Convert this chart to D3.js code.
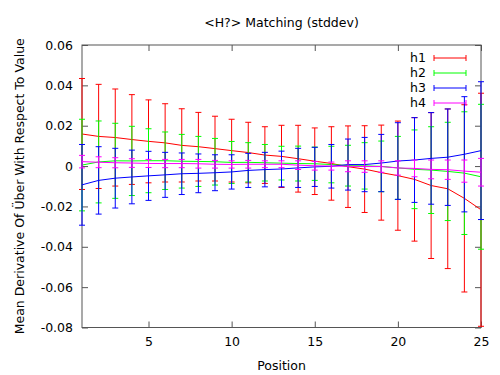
<!DOCTYPE html>
<html>
<head>
<meta charset="utf-8">
<script src="https://cdn.jsdelivr.net/npm/d3@7"></script>
<style>
  body { margin: 0; background: #fff; }
  text { font-family: "DejaVu Sans", sans-serif; fill: #000; }
</style>
</head>
<body>
<script>
// <H?> Matching (stddev) - gnuplot style yerrorlines

const positions = d3.range(1, 26);
const seriesNames = ["h1", "h2", "h3", "h4"];

// means (x 0.001)
const h1Mean = [15.9, 14.7, 14.15, 13.15, 12.25, 11.5, 10.25, 9.6, 8.65, 7.65, 6.7, 5.45, 4.8, 3.65, 2.4, 1.3, -0.3, -1.5, -3.25, -4.75, -6.6, -9.65, -11.25, -16.0, -21.65];
const h2Mean = [0.5, 2.05, 2.6, 2.55, 2.65, 2.65, 2.4, 2.3, 2.15, 1.8, 1.85, 1.65, 1.45, 1.25, 1.15, 0.75, 0.2, 0.1, -0.15, -0.9, -1.6, -2.0, -2.65, -3.5, -5.3];
const h3Mean = [-9.3, -7.1, -6.0, -5.4, -4.85, -4.35, -3.8, -3.6, -3.3, -2.9, -2.15, -1.75, -1.45, -0.9, -0.4, -0.1, 0.75, 0.75, 1.5, 2.5, 3.0, 3.8, 4.4, 5.85, 7.65];
const h4Mean = [2.2, 1.9, 1.65, 1.5, 1.3, 1.25, 1.25, 1.15, 0.9, 0.8, 0.9, 0.9, 0.9, 0.45, 0.15, 0.0, -0.1, -0.25, -0.25, -0.95, -1.15, -1.65, -1.8, -2.5, -3.05];

// standard deviations (x 0.001)
const h1Sd = [27.5, 25.8, 24.05, 22.25, 20.55, 19.4, 18.15, 17.0, 16.05, 15.55, 15.0, 14.05, 15.4, 16.55, 16.5, 18.2, 20.2, 21.5, 23.55, 27.05, 30.6, 36.15, 39.55, 46.4, 57.75];
const h2Sd = [22.7, 20.3, 18.6, 17.15, 15.85, 14.25, 13.3, 12.4, 11.55, 10.4, 9.75, 9.05, 8.35, 8.65, 8.25, 9.05, 10.1, 11.5, 12.55, 15.6, 19.5, 21.5, 24.35, 30.4, 35.9];
const h3Sd = [20.0, 16.7, 14.8, 13.3, 12.15, 11.15, 10.3, 9.6, 8.9, 8.5, 8.45, 8.55, 8.85, 9.7, 9.7, 10.8, 12.65, 13.45, 14.2, 19.0, 21.0, 22.7, 23.9, 28.55, 34.15];
const h4Sd = [3.1, 2.7, 2.5, 2.15, 2.0, 2.05, 2.05, 2.15, 1.9, 1.8, 1.9, 1.7, 1.7, 2.15, 2.15, 2.0, 2.7, 2.85, 2.85, 3.55, 4.15, 4.65, 4.8, 5.5, 6.85];

const xTicks = [5, 10, 15, 20, 25];
const yTicks = [-0.08, -0.06, -0.04, -0.02, 0, 0.02, 0.04, 0.06];

const WIDTH = 500;
const HEIGHT = 375;
const LEFT = 82, RIGHT = 481, TOP = 45, BOTTOM = 327.5;
const colors = { h1: "#ff0000", h2: "#00ff00", h3: "#0000ff", h4: "#ff00ff" };
const CAP = 3;
const TICK = 6;
const AXIS_COLOR = "#555";

const means = { h1: h1Mean, h2: h2Mean, h3: h3Mean, h4: h4Mean };
const sds = { h1: h1Sd, h2: h2Sd, h3: h3Sd, h4: h4Sd };

const series = seriesNames.map(name => ({
  name: name,
  values: positions.map((p, i) => ({
    x: p,
    y: means[name][i] / 1000,
    sd: sds[name][i] / 1000
  }))
}));

const svg = d3.select("body")
  .append("svg")
  .attr("width", WIDTH)
  .attr("height", HEIGHT);

const xScale = d3.scaleLinear().domain([1, 25]).range([LEFT, RIGHT]);
const yScale = d3.scaleLinear().domain([-0.08, 0.06]).range([BOTTOM, TOP]);

// axes: gnuplot-style inward ticks, mirrored
const fmtY = d => d === 0 ? "0" : d3.format(".2f")(d).replace("−", "-");

const yLeft = svg.append("g")
  .attr("transform", `translate(${LEFT},0)`)
  .call(d3.axisLeft(yScale).tickValues(yTicks).tickSize(-TICK).tickPadding(9).tickFormat(fmtY));
const yRight = svg.append("g")
  .attr("transform", `translate(${RIGHT},0)`)
  .call(d3.axisRight(yScale).tickValues(yTicks).tickSize(-TICK).tickFormat(""));
const xBottom = svg.append("g")
  .attr("transform", `translate(0,${BOTTOM})`)
  .call(d3.axisBottom(xScale).tickValues(xTicks).tickSize(-TICK).tickPadding(10));
const xTop = svg.append("g")
  .attr("transform", `translate(0,${TOP})`)
  .call(d3.axisTop(xScale).tickValues(xTicks).tickSize(-TICK).tickFormat(""));

[yLeft, yRight, xBottom, xTop].forEach(g => {
  g.select(".domain").remove();
  g.selectAll(".tick line").attr("stroke", AXIS_COLOR);
  g.selectAll("text")
    .style("font-family", "DejaVu Sans")
    .style("font-size", "12.5px")
    .attr("fill", "#000");
});

svg.append("rect")
  .attr("x", LEFT).attr("y", TOP)
  .attr("width", RIGHT - LEFT).attr("height", BOTTOM - TOP)
  .attr("fill", "none")
  .attr("stroke", AXIS_COLOR)
  .attr("stroke-width", 1);

// data (gnuplot lets the end caps poke past the border, so no clipping)
const plot = svg.append("g");

const line = d3.line()
  .x(d => xScale(d.x))
  .y(d => yScale(d.y));

const groups = plot.selectAll(".series")
  .data(series)
  .join("g")
  .attr("class", "series")
  .attr("stroke", d => colors[d.name])
  .attr("stroke-width", 1)
  .attr("fill", "none");

groups.append("path")
  .attr("d", d => line(d.values));

const bars = groups.selectAll(".bar")
  .data(d => d.values)
  .join("g")
  .attr("class", "bar");

bars.append("line")
  .attr("x1", d => xScale(d.x)).attr("x2", d => xScale(d.x))
  .attr("y1", d => yScale(d.y - d.sd)).attr("y2", d => yScale(d.y + d.sd));
bars.append("line")
  .attr("x1", d => xScale(d.x) - CAP).attr("x2", d => xScale(d.x) + CAP)
  .attr("y1", d => yScale(d.y + d.sd)).attr("y2", d => yScale(d.y + d.sd));
bars.append("line")
  .attr("x1", d => xScale(d.x) - CAP).attr("x2", d => xScale(d.x) + CAP)
  .attr("y1", d => yScale(d.y - d.sd)).attr("y2", d => yScale(d.y - d.sd));

// legend (key)
const key = svg.append("g")
  .selectAll("g")
  .data(seriesNames)
  .join("g")
  .attr("transform", (d, i) => `translate(0,${58 + i * 15})`);

key.append("text")
  .attr("x", 426)
  .attr("y", 0)
  .attr("dy", "0.35em")
  .attr("text-anchor", "end")
  .style("font-size", "12.5px")
  .text(d => d);
key.append("line")
  .attr("x1", 434).attr("x2", 466)
  .attr("stroke", d => colors[d]);
key.append("line")
  .attr("x1", 434).attr("x2", 434).attr("y1", -CAP).attr("y2", CAP)
  .attr("stroke", d => colors[d]);
key.append("line")
  .attr("x1", 466).attr("x2", 466).attr("y1", -CAP).attr("y2", CAP)
  .attr("stroke", d => colors[d]);

// titles
svg.append("text")
  .attr("x", (LEFT + RIGHT) / 2)
  .attr("y", 27)
  .attr("text-anchor", "middle")
  .style("font-size", "12.5px")
  .text("<H?> Matching (stddev)");

svg.append("text")
  .attr("x", (LEFT + RIGHT) / 2)
  .attr("y", 370)
  .attr("text-anchor", "middle")
  .style("font-size", "12.5px")
  .text("Position");

svg.append("text")
  .attr("transform", `translate(24,${(TOP + BOTTOM) / 2}) rotate(-90)`)
  .attr("text-anchor", "middle")
  .style("font-size", "12.5px")
  .text("Mean Derivative Of Über With Respect To Value");
</script>
</body>
</html>
